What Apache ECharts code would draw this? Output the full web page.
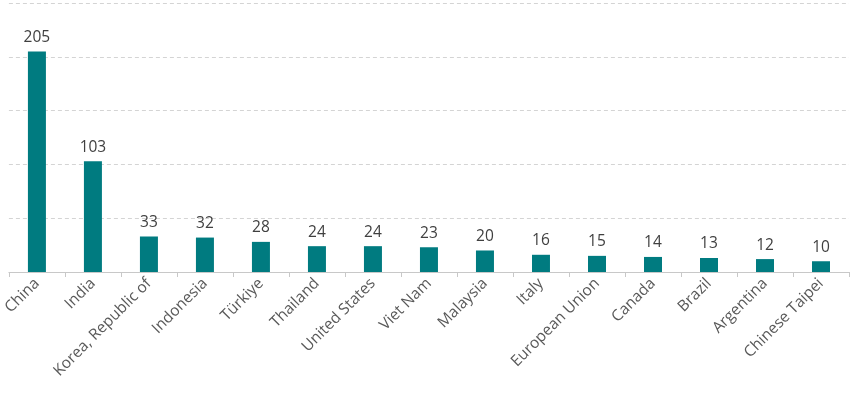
<!DOCTYPE html>
<html>
<head>
<meta charset="utf-8">
<script src="https://cdn.jsdelivr.net/npm/echarts@6/dist/echarts.min.js"></script>
<style>
  html, body { margin: 0; padding: 0; background: #fff; }
  #main { width: 850px; height: 399px; }
</style>
</head>
<body>
<div id="main"></div>
<script>
var categories = ['China', 'India', 'Korea, Republic of', 'Indonesia', 'Türkiye', 'Thailand',
  'United States', 'Viet Nam', 'Malaysia', 'Italy', 'European Union', 'Canada', 'Brazil',
  'Argentina', 'Chinese Taipei'];
var values = [205, 103, 33, 32, 28, 24, 24, 23, 20, 16, 15, 14, 13, 12, 10];

var chart = echarts.init(document.getElementById('main'));
var font = '"Open Sans", "Liberation Sans", sans-serif';

chart.setOption({
  animation: false,
  grid: { left: 7, right: 1, top: 3, bottom: 127, containLabel: false },
  xAxis: {
    type: 'category',
    data: categories,
    axisLine: { lineStyle: { color: '#c8c8c8', width: 1 } },
    axisTick: { show: true, length: 5, lineStyle: { color: '#c8c8c8' } },
    axisLabel: {
      rotate: 45,
      interval: 0,
      margin: 9,
      color: '#595959',
      fontSize: 15.5,
      fontFamily: font
    }
  },
  yAxis: {
    type: 'value',
    min: 0,
    max: 250,
    interval: 50,
    axisLabel: { show: false },
    axisLine: { show: false },
    axisTick: { show: false },
    splitLine: { lineStyle: { color: '#d4d4d4', type: [4, 3], width: 1 } }
  },
  series: [{
    type: 'bar',
    data: values,
    barWidth: 18,
    itemStyle: { color: '#007b80' },
    label: {
      show: true,
      position: 'top',
      distance: 6,
      color: '#404040',
      fontSize: 15.5,
      fontFamily: font
    }
  }]
});
</script>
</body>
</html>
